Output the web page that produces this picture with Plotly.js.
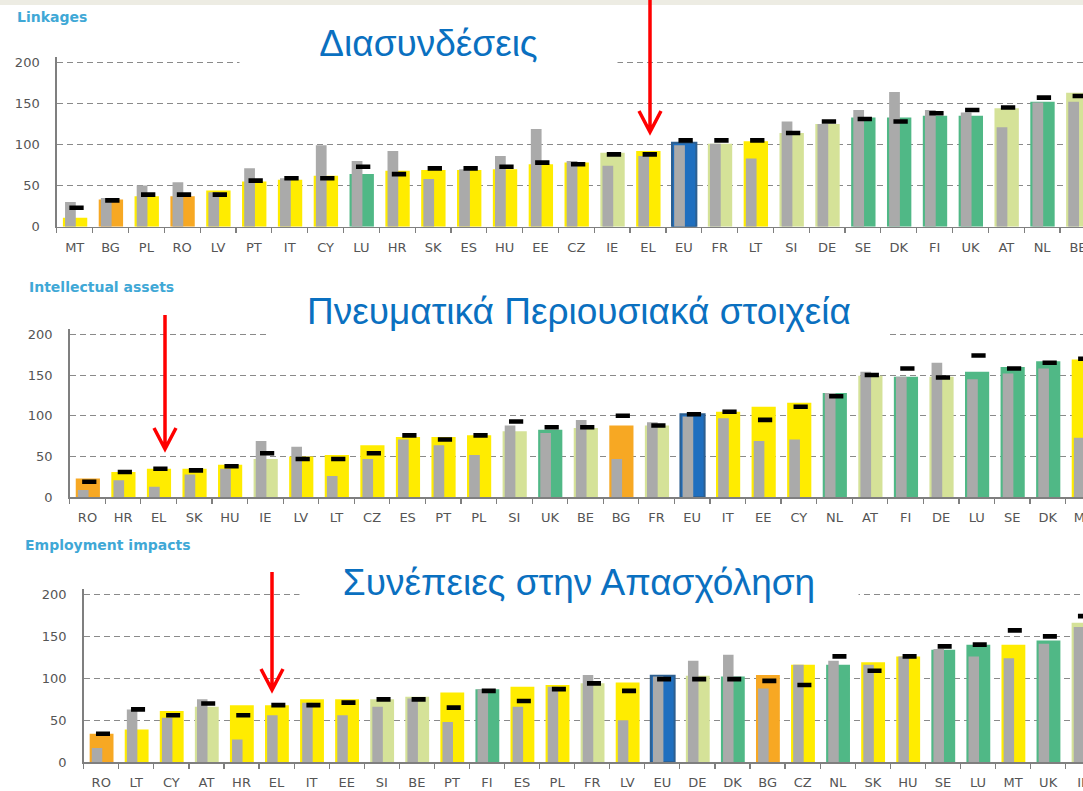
<!DOCTYPE html>
<html>
<head>
<meta charset="utf-8">
<script src="https://cdn.plot.ly/plotly-3.0.1.min.js"></script>
<style>
html,body{margin:0;padding:0;background:#fff;overflow:hidden;width:1083px;height:791px;}
#chart{width:1120px;height:791px;}
</style>
</head>
<body>
<div id="chart"></div>
<script>
// ---------- DATA ----------
const linkCats = ['MT','BG','PL','RO','LV','PT','IT','CY','LU','HR','SK','ES','HU','EE','CZ','IE','EL','EU','FR','LT','SI','DE','SE','DK','FI','UK','AT','NL','BE'];
const linkPrev = [30,35,50,54,42,71,59,99,80,92,58,70,86,119,80,74,86,99,101,83,128,125,142,164,142,139,121,151,152];
const linkCurr = [11,33,37,37,44,55,57,62,64,68,69,69,70,76,78,90,92,102,101,104,114,125,133,133,135,135,144,152,163];
const linkMark = [23,32,39,39,39,56,59,59,73,64,71,71,73,78,76,88,88,105,105,105,114,128,131,128,138,142,145,157,159];

const ipCats = ['RO','HR','EL','SK','HU','IE','LV','LT','CZ','ES','PT','PL','SI','UK','BE','BG','FR','EU','IT','EE','CY','NL','AT','FI','DE','LU','SE','DK','MT'];
const ipPrev = [9,21,13,28,35,69,62,26,47,71,64,52,88,79,95,47,92,99,97,69,71,128,154,148,165,145,152,158,73];
const ipCurr = [23,31,35,35,40,47,50,52,64,74,74,76,81,83,85,88,88,102,105,111,116,128,149,148,148,154,160,167,169];
const ipMark = [19,31,35,33,38,54,47,47,54,76,71,76,93,86,86,100,88,102,105,95,111,124,150,158,147,174,158,165,170];

const empCats = ['RO','LT','CY','AT','HR','EL','IT','EE','SI','BE','PT','FI','ES','PL','FR','LV','EU','DE','DK','BG','CZ','NL','SK','HU','SE','LU','MT','UK','IE'];
const empPrev = [17,63,53,75,27,56,71,56,66,76,48,87,66,90,104,50,102,121,128,88,116,121,116,126,135,126,124,141,161];
const empCurr = [34,39,61,66,68,68,75,75,75,78,83,87,90,92,94,95,103,103,102,104,116,116,119,126,134,140,140,145,166];
const empMark = [34,63,56,70,56,68,68,71,75,75,65,85,73,87,94,85,99,99,99,97,92,126,109,126,138,140,157,150,174];

// performance groups
const modestGroup = ['BG','RO'];
const strongGroup = ['IE','FR','SI','DE','AT','BE'];
const leaderGroup = ['LU','SE','DK','FI','UK','NL'];
const euGroup = ['EU'];

const yTicks = [0,50,100,150,200];
const panelTitles = ['Linkages','Intellectual assets','Employment impacts'];
const greekTitles = ['Διασυνδέσεις','Πνευματικά Περιουσιακά στοιχεία','Συνέπειες στην Απασχόληση'];

// ---------- STYLE ----------
const W = 1120, H = 791;
const fx = p => p / W;
const fy = p => 1 - p / H;
const COL = {modest:'#f7a823', moderate:'#ffec00', strong:'#d5e298', leader:'#50b886', eu:'#1f6fbf'};
const GREY = '#aaaaaa';
function groupColor(c){
  if (euGroup.includes(c)) return COL.eu;
  if (modestGroup.includes(c)) return COL.modest;
  if (strongGroup.includes(c)) return COL.strong;
  if (leaderGroup.includes(c)) return COL.leader;
  return COL.moderate;
}

const panels = [
  {cats:linkCats, prev:linkPrev, curr:linkCurr, mark:linkMark, x0:56.8, step:35.83, y0:226.7, k:0.822},
  {cats:ipCats, prev:ipPrev, curr:ipCurr, mark:ipMark, x0:69.7, step:35.57, y0:497.3, k:0.815},
  {cats:empCats, prev:empPrev, curr:empCurr, mark:empMark, x0:83.7, step:35.07, y0:762.3, k:0.840}
];
const YMAX = 206;
const traces = [];
const layout = {
  width: W, height: H,
  margin:{l:0,r:0,t:0,b:0},
  paper_bgcolor:'#ffffff', plot_bgcolor:'rgba(0,0,0,0)',
  showlegend:false, barmode:'overlay',
  font:{family:'DejaVu Sans', color:'#555'},
  annotations:[], shapes:[]
};

panels.forEach((p, i) => {
  const n = i === 0 ? '' : String(i + 1);
  const xa = 'x' + n, ya = 'y' + n;
  traces.push({
    type:'bar', x:p.cats, y:p.curr, xaxis:xa, yaxis:ya,
    offset:-0.33, width:0.68,
    marker:{color:p.cats.map(groupColor),
            line:{width:p.cats.map(c => euGroup.includes(c) ? 2 : 0), color:'#2d5f90'}},
    hoverinfo:'skip'
  });
  traces.push({
    type:'bar', x:p.cats, y:p.prev, xaxis:xa, yaxis:ya,
    offset:-0.27, width:0.30,
    marker:{color:GREY, line:{width:0}}, hoverinfo:'skip'
  });
  traces.push({
    type:'bar', x:p.cats, y:p.mark.map(() => 5.6), base:p.mark.map(v => v - 2.8),
    xaxis:xa, yaxis:ya, offset:-0.15, width:0.40,
    marker:{color:'#000000', line:{width:0}}, hoverinfo:'skip'
  });
  const top = p.y0 - YMAX * p.k;
  layout['xaxis' + n] = {
    type:'category', anchor:ya, range:[-0.5, p.cats.length - 0.5],
    domain:[fx(p.x0), fx(p.x0 + p.cats.length * p.step)],
    showgrid:false, showline:true, linecolor:'#7f7f7f', linewidth:1.5,
    ticks:'outside', tickson:'boundaries', ticklen:5, tickcolor:'#7f7f7f', tickwidth:1.2,
    ticklabelstandoff:8,
    tickfont:{family:'DejaVu Sans', size:13, color:'#555'}, fixedrange:true
  };
  layout['yaxis' + n] = {
    anchor:xa, range:[0, YMAX], domain:[fy(p.y0), fy(top)],
    tickvals:yTicks, showline:true, linecolor:'#7f7f7f', linewidth:1.5,
    showgrid:true, gridcolor:'#8a8a8a', gridwidth:1, griddash:'6px,4px',
    zeroline:false, ticks:'', ticklabelstandoff:13,
    tickfont:{family:'DejaVu Sans', size:13, color:'#555'}, fixedrange:true
  };
});

// top band
layout.shapes.push({type:'rect', xref:'paper', yref:'paper', x0:0, x1:1, y0:fy(5), y1:1,
  fillcolor:'#edece3', line:{width:0}, layer:'below'});

// panel titles
[[15,17],[27,287],[23,545]].forEach((pos, i) => {
  layout.annotations.push({xref:'paper', yref:'paper', x:fx(pos[0]), y:fy(pos[1]),
    xanchor:'left', yanchor:'middle', showarrow:false, text:'<b>' + panelTitles[i] + '</b>',
    font:{family:'DejaVu Sans', size:14, color:'#3fa8d6'}});
});

// greek titles with white boxes
[[240,617,43],[270,888,311],[300,858,582]].forEach((b, i) => {
  layout.annotations.push({xref:'paper', yref:'paper', x:fx((b[0] + b[1]) / 2), y:fy(b[2]),
    xanchor:'center', yanchor:'middle', showarrow:false, text:greekTitles[i],
    width:b[1] - b[0], height:58, bgcolor:'#ffffff', borderpad:0,
    font:{family:'Liberation Sans', size:37, color:'#0a70c0'}});
});

// red arrows
[[650,0,132],[165,315,449],[272,572,690]].forEach(a => {
  const x = a[0], y0 = a[1], yt = a[2];
  const path = `M ${fx(x)},${fy(y0)} L ${fx(x)},${fy(yt - 2)} M ${fx(x - 11)},${fy(yt - 21)} L ${fx(x)},${fy(yt)} L ${fx(x + 11)},${fy(yt - 21)}`;
  layout.shapes.push({type:'path', xref:'paper', yref:'paper', path:path,
    line:{color:'#ff0000', width:3.5}, layer:'above'});
});

Plotly.newPlot('chart', traces, layout, {displayModeBar:false, staticPlot:true});
</script>
</body>
</html>
